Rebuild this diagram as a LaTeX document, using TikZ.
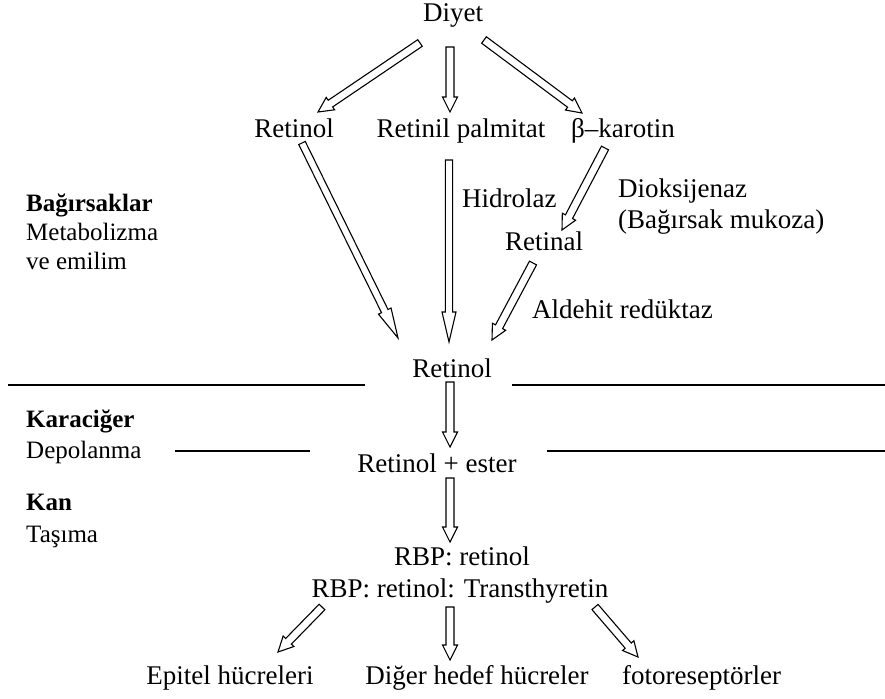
\documentclass[tikz,border=0pt]{standalone}
\usepackage{fontspec}
\setmainfont{Liberation Serif}
\usetikzlibrary{calc}
\tikzset{
  lbl/.style={inner sep=0pt, anchor=base, font=\fontsize{27}{30}\selectfont},
  lblw/.style={inner sep=0pt, anchor=base west, font=\fontsize{27}{30}\selectfont},
  side/.style={inner sep=0pt, anchor=base west, font=\fontsize{25}{28}\selectfont},
  sideb/.style={side, font=\fontsize{25}{28}\selectfont\bfseries},
  sep/.style={line width=1.3pt},
  harrowline/.style={line width=1.1pt, fill=white, line join=miter},
}
% hollow block arrow: #1 start, #2 end, #3 shaft half width, #4 head half width, #5 head length
\newcommand{\harr}[5]{%
  \coordinate (hb) at ($(#2)!#5!(#1)$);
  \draw[harrowline] ($(#1)!#3!90:(#2)$) -- ($(hb)!#3!90:(#2)$) -- ($(hb)!#4!90:(#2)$) -- (#2)
    -- ($(hb)!#4!-90:(#2)$) -- ($(hb)!#3!-90:(#2)$) -- ($(#1)!#3!-90:(#2)$) -- cycle;}
\newcommand{\sarr}[2]{\harr{#1}{#2}{4pt}{7.5pt}{15pt}}
\newcommand{\larr}[2]{\harr{#1}{#2}{3.6pt}{7pt}{30pt}}
\begin{document}
\begin{tikzpicture}[x=1pt,y=-1pt]
\useasboundingbox (0,0) rectangle (885,698);
% labels
\node[lbl] (diyet) at (453,22) {Diyet};
\node[lbl] (ret1) at (294,137) {Retinol};
\node[lbl] (palm) at (461,137) {Retinil palmitat};
\node[lbl] (beta) at (623,137) {β–karotin};
\node[lblw] (hidro) at (462,207) {Hidrolaz};
\node[lblw] (diok) at (618,197) {Dioksijenaz};
\node[lblw] (mukoza) at (618,228) {(Bağırsak mukoza)};
\node[lbl] (retinal) at (544,250) {Retinal};
\node[lblw] (ald) at (532,318) {Aldehit redüktaz};
\node[lbl] (ret2) at (452,377) {Retinol};
\node[lbl] (ester) at (437,472) {Retinol + ester};
\node[lbl] (rbp) at (462,565) {RBP: retinol};
\node[lbl] (trans) at (460,597) {RBP: retinol: Transthyretin};
\node[lbl] (epi) at (230,684) {Epitel hücreleri};
\node[lbl] (diger) at (477,684) {Diğer hedef hücreler};
\node[lblw] (foto) at (622,684) {fotoreseptörler};
% side labels
\node[sideb] (bag) at (26,211) {Bağırsaklar};
\node[side] (meta) at (26,240) {Metabolizma};
\node[side] (ve) at (26,269) {ve emilim};
\node[sideb] (kara) at (26,427) {Karaciğer};
\node[side] (depo) at (26,458) {Depolanma};
\node[sideb] (kan) at (26,510) {Kan};
\node[side] (tasima) at (26,542) {Taşıma};
% separator lines
\coordinate (l1a) at (8,385);   \coordinate (l1b) at (365,385);
\coordinate (l2a) at (512,385); \coordinate (l2b) at (885,385);
\coordinate (l3a) at (175,451); \coordinate (l3b) at (310,451);
\coordinate (l4a) at (547,451); \coordinate (l4b) at (885,451);
\draw[sep] (l1a) -- (l1b);
\draw[sep] (l2a) -- (l2b);
\draw[sep] (l3a) -- (l3b);
\draw[sep] (l4a) -- (l4b);
% arrow end points
\coordinate (a1s) at (420,43);  \coordinate (a1e) at (318,112);
\coordinate (a2s) at (450,47);  \coordinate (a2e) at (450,112);
\coordinate (a3s) at (484,40);  \coordinate (a3e) at (582,113);
\coordinate (a4s) at (302,143); \coordinate (a4e) at (398,338);
\coordinate (a5s) at (449,160); \coordinate (a5e) at (449,342);
\coordinate (a6s) at (605,148); \coordinate (a6e) at (562,230);
\coordinate (a7s) at (533,263); \coordinate (a7e) at (492,340);
\coordinate (a8s) at (450,382); \coordinate (a8e) at (450,447);
\coordinate (a9s) at (450,478); \coordinate (a9e) at (450,542);
\coordinate (a10s) at (322,607); \coordinate (a10e) at (278,652);
\coordinate (a11s) at (450,607); \coordinate (a11e) at (450,660);
\coordinate (a12s) at (595,607); \coordinate (a12e) at (638,657);
\sarr{a1s}{a1e}
\sarr{a2s}{a2e}
\sarr{a3s}{a3e}
\larr{a4s}{a4e}
\larr{a5s}{a5e}
\sarr{a6s}{a6e}
\sarr{a7s}{a7e}
\sarr{a8s}{a8e}
\sarr{a9s}{a9e}
\sarr{a10s}{a10e}
\sarr{a11s}{a11e}
\sarr{a12s}{a12e}
\end{tikzpicture}
\end{document}
